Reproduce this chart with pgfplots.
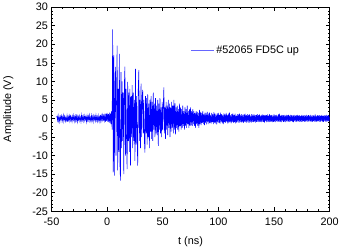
\documentclass[border=0pt]{standalone}
\usepackage{fontspec}
\setmainfont{Liberation Sans}
\usepackage{pgfplots}
\pgfplotsset{compat=1.18}
\begin{document}
\begin{tikzpicture}
\begin{axis}[
  scale only axis, width=282pt, height=207pt,
  xmin=-50, xmax=200, ymin=-25, ymax=30,
  xtick={-50,0,...,200}, ytick={-25,-20,...,30},
  minor x tick num=4, minor y tick num=4,
  tick align=inside, major tick length=4pt, minor tick length=2pt,
  axis line style={line width=0.8pt},
  every tick/.style={black, line width=0.6pt},
  tick label style={font=\fontsize{11}{13}\selectfont},
  xticklabel style={yshift=-3pt},
  /pgf/number format/assume math mode=true,
  xlabel={t (ns)}, ylabel={Amplitude (V)},
  label style={font=\fontsize{11}{13}\selectfont},
  xlabel style={at={(axis description cs:0.5,-0.15)}, anchor=center},
  ylabel style={at={(axis description cs:-0.155,0.5)}, anchor=center},
  legend style={at={(0.49,0.79)}, anchor=west, draw=none, fill=none,
    font=\fontsize{11}{13}\selectfont},
  legend image code/.code={\draw[#1, line width=0.8pt, blue!60] (0pt,0pt) -- (23pt,0pt);},
]
\addplot[blue, line width=0.55pt] coordinates {
(-45.5,0.4) (-45,0.6) (-44.5,-0.5) (-44,0.8) (-43.5,-0.7) (-43,0.3) (-42.5,-0.9) (-42,0.5) (-41.5,-0.2) (-41,0.7)
(-40.5,-0.6) (-40,0.4) (-39.5,-0.8) (-39,0.9) (-38.5,-0.3) (-38,0.6) (-37.5,-0.7) (-37,0.2) (-36.5,-0.5) (-36,0.8)
(-35.5,-0.9) (-35,0.5) (-34.5,-0.4) (-34,0.7) (-33.5,-0.6) (-33,1.0) (-32.5,-0.5) (-32,0.3) (-31.5,-0.8) (-31,0.6)
(-30.5,-0.3) (-30,0.8) (-29.5,-0.7) (-29,0.4) (-28.5,-0.6) (-28,1.2) (-27.5,-0.4) (-27,0.6) (-26.5,-0.9) (-26,0.5)
(-25.5,-0.3) (-25,0.7) (-24.5,-0.6) (-24,0.3) (-23.5,-0.8) (-23,0.9) (-22.5,-0.4) (-22,0.5) (-21.5,-0.7) (-21,0.6)
(-20.5,-0.5) (-20,0.8) (-19.5,-0.3) (-19,0.4) (-18.5,-0.9) (-18,0.7) (-17.5,-0.5) (-17,0.6) (-16.5,-0.4) (-16,0.9)
(-15.5,-0.6) (-15,0.3) (-14.5,-0.7) (-14,0.8) (-13.5,-0.5) (-13,0.5) (-12.5,-0.8) (-12,0.7) (-11.5,-0.3) (-11,0.6)
(-10.5,-0.6) (-10,0.9) (-9.5,-0.4) (-9,0.5) (-8.5,-0.7) (-8,0.8) (-7.5,-0.5) (-7,0.4) (-6.5,-0.8) (-6,1.0)
(-5.5,-0.6) (-5,0.7) (-4.5,-0.4) (-4,0.9) (-3.5,-0.7) (-3,1.1) (-2.5,-0.5) (-2,0.8) (-1.5,-0.9) (-1,1.3)
(-0.5,-0.6) (0,1.5) (0.5,-0.8) (1,1.2) (1.5,-1.0) (2,1.6) (2.5,-1.2) (3,1.4) (3.5,-1.5) (4,2.0)
(4.5,-3.0) (5,24.0) (5.5,-14.5) (6,17.0) (6.5,-15.4) (7,9.0) (7.5,13.9) (8,-10.0) (8.5,6.0) (9,19.6)
(9.5,-14.0) (10,8.0) (10.5,-9.0) (11,17.4) (11.5,-12.0) (12,-16.7) (12.5,12.5) (13,-8.0) (13.5,10.0) (14,-6.0)
(14.5,7.0) (15,-15.0) (15.5,9.0) (16,14.0) (16.5,-10.0) (17,8.0) (17.5,-7.0) (18,-13.6) (18.5,9.9) (19,-6.0)
(19.5,7.0) (20,-9.0) (20.5,8.0) (21,-12.7) (21.5,6.0) (22,-5.0) (22.5,9.0) (23,-8.0) (23.5,7.0) (24,-6.0)
(24.5,5.0) (25,-11.4) (25.5,13.4) (26,-7.0) (26.5,6.0) (27,-5.0) (27.5,-12.7) (28,8.0) (28.5,13.0) (29,-6.0)
(29.5,5.0) (30,-8.0) (30.5,9.4) (31,-5.0) (31.5,6.0) (32,7.7) (32.5,-4.0) (33,5.0) (33.5,-6.0) (34,-9.2)
(34.5,6.0) (35,-4.0) (35.5,5.5) (36,-7.0) (36.5,6.5) (37,-5.0) (37.5,4.0) (38,-8.0) (38.5,5.0) (39,-3.5)
(39.5,6.0) (40,-5.5) (40.5,4.5) (41,-6.0) (41.5,7.0) (42,-3.0) (42.5,4.0) (43,-5.0) (43.5,5.5) (44,-4.0)
(44.5,3.5) (45,-4.5) (45.5,5.0) (46,-7.4) (46.5,4.0) (47,-3.0) (47.5,5.5) (48,-4.0) (48.5,3.0) (49,-5.0)
(49.5,4.5) (50,-3.0) (50.5,3.5) (51,8.4) (51.5,-4.0) (52,3.0) (52.5,-5.5) (53,4.5) (53.5,-3.0) (54,3.5)
(54.5,-4.5) (55,5.0) (55.5,-2.5) (56,4.0) (56.5,-5.0) (57,3.0) (57.5,-3.5) (58,4.5) (58.5,-2.5) (59,3.5)
(59.5,-4.0) (60,5.0) (60.5,-3.0) (61,4.1) (61.5,-4.3) (62,3.0) (62.5,-2.5) (63,3.5) (63.5,-3.0) (64,2.5)
(64.5,-3.5) (65,4.0) (65.5,-2.0) (66,3.0) (66.5,-3.0) (67,2.5) (67.5,-2.5) (68,3.5) (68.5,-2.0) (69,2.0)
(69.5,-3.0) (70,3.0) (70.5,-2.0) (71,2.5) (71.5,-2.5) (72,3.5) (72.5,-1.5) (73,2.0) (73.5,-2.5) (74,2.5)
(74.5,-2.0) (75,3.0) (75.5,-1.8) (76,2.0) (76.5,-2.0) (77,2.5) (77.5,-1.5) (78,2.0) (78.5,-2.0) (79,1.5)
(79.5,-2.5) (80,2.0) (80.5,-1.5) (81,1.8) (81.5,-2.0) (82,1.5) (82.5,-2.5) (83,2.3) (83.5,-1.5) (84,1.8)
(84.5,-1.8) (85,1.5) (85.5,-1.2) (86,2.0) (86.5,-1.5) (87,1.2) (87.5,-1.8) (88,1.6) (88.5,-1.2) (89,1.4)
(89.5,-1.6) (90,1.8) (90.5,-1.0) (91,1.3) (91.5,-1.5) (92,1.6) (92.5,-1.2) (93,1.0) (93.5,-1.4) (94,1.5)
(94.5,-1.0) (95,1.2) (95.5,-1.5) (96,1.7) (96.5,-1.1) (97,1.3) (97.5,-1.3) (98,1.0) (98.5,-1.6) (99,1.4)
(99.5,-1.0) (100,1.5) (100.5,-1.2) (101,1.0) (101.5,-1.4) (102,1.6) (102.5,-0.9) (103,1.2) (103.5,-1.3) (104,0.9)
(104.5,-1.5) (105,1.4) (105.5,-1.0) (106,1.1) (106.5,-1.2) (107,1.5) (107.5,-0.8) (108,1.0) (108.5,-1.4) (109,1.3)
(109.5,-1.1) (110,1.6) (110.5,-1.0) (111,0.9) (111.5,-1.3) (112,1.2) (112.5,-0.9) (113,1.4) (113.5,-1.2) (114,1.0)
(114.5,-1.0) (115,1.3) (115.5,-1.3) (116,0.8) (116.5,-1.1) (117,1.2) (117.5,-0.8) (118,1.1) (118.5,-1.2) (119,1.3)
(119.5,-0.9) (120,1.0) (120.5,-1.1) (121,1.2) (121.5,-1.0) (122,0.9) (122.5,-1.2) (123,1.1) (123.5,-0.8) (124,1.3)
(124.5,-1.0) (125,0.9) (125.5,-1.1) (126,1.2) (126.5,-0.8) (127,1.0) (127.5,-1.2) (128,1.1) (128.5,-0.9) (129,0.8)
(129.5,-1.1) (130,1.2) (130.5,-0.9) (131,1.0) (131.5,-1.0) (132,1.1) (132.5,-0.8) (133,0.9) (133.5,-1.1) (134,1.0)
(134.5,-0.9) (135,1.2) (135.5,-0.8) (136,0.9) (136.5,-1.0) (137,1.1) (137.5,-0.9) (138,0.8) (138.5,-1.0) (139,1.0)
(139.5,-0.8) (140,1.1) (140.5,-0.9) (141,0.9) (141.5,-1.1) (142,1.0) (142.5,-0.7) (143,0.9) (143.5,-1.0) (144,1.1)
(144.5,-0.8) (145,0.8) (145.5,-1.0) (146,1.2) (146.5,-0.9) (147,0.9) (147.5,-0.8) (148,1.0) (148.5,-1.0) (149,0.8)
(149.5,-0.9) (150,1.1) (150.5,-0.8) (151,0.9) (151.5,-1.0) (152,1.0) (152.5,-0.7) (153,0.8) (153.5,-0.9) (154,1.1)
(154.5,-0.8) (155,1.3) (155.5,-0.9) (156,0.8) (156.5,-1.0) (157,1.0) (157.5,-0.7) (158,0.9) (158.5,-0.9) (159,1.0)
(159.5,-0.8) (160,0.8) (160.5,-1.0) (161,1.0) (161.5,-0.7) (162,0.9) (162.5,-0.8) (163,1.0) (163.5,-0.9) (164,0.8)
(164.5,-0.8) (165,1.0) (165.5,-0.7) (166,0.9) (166.5,-0.9) (167,0.8) (167.5,-1.0) (168,1.0) (168.5,-0.7) (169,0.8)
(169.5,-0.8) (170,0.9) (170.5,-0.9) (171,1.0) (171.5,-0.7) (172,0.8) (172.5,-0.9) (173,0.9) (173.5,-0.8) (174,0.7)
(174.5,-0.9) (175,1.0) (175.5,-0.8) (176,0.8) (176.5,-0.7) (177,0.9) (177.5,-0.9) (178,0.8) (178.5,-0.8) (179,1.0)
(179.5,-0.7) (180,0.8) (180.5,-0.9) (181,0.9) (181.5,-0.7) (182,0.8) (182.5,-0.8) (183,1.0) (183.5,-0.8) (184,0.7)
(184.5,-0.9) (185,0.9) (185.5,-0.7) (186,0.8) (186.5,-0.8) (187,1.1) (187.5,-0.8) (188,0.7) (188.5,-0.9) (189,0.9)
(189.5,-0.7) (190,0.8) (190.5,-0.8) (191,0.9) (191.5,-0.9) (192,0.8) (192.5,-0.7) (193,1.0) (193.5,-0.8) (194,0.7)
(194.5,-0.9) (195,0.9) (195.5,-0.7) (196,0.8) (196.5,-0.8) (197,1.0) (197.5,-0.8) (198,0.8) (198.5,-0.7) (199,0.9)
(199.5,-0.8) (200,0.6)
};
\addlegendentry{\#52065 FD5C up}
\end{axis}
\end{tikzpicture}
\end{document}
